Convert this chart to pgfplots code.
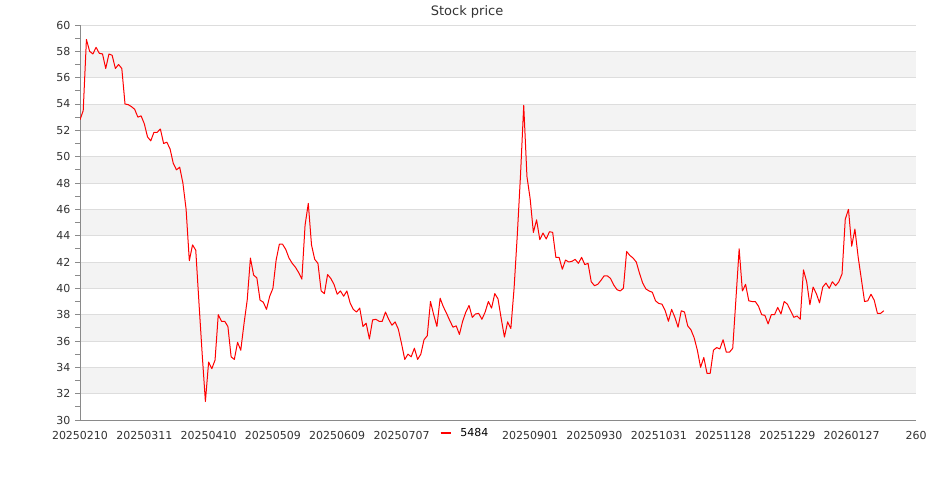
\documentclass[border=0pt]{standalone}
\usepackage{pgfplots}
\pgfplotsset{compat=1.18}
\usepackage{pgfplotstable}
\usepackage{fontspec}
\setmainfont{DejaVu Sans}

\definecolor{band}{HTML}{F3F3F3}
\definecolor{gridc}{HTML}{DDDDDD}
\definecolor{axisc}{HTML}{8A8A8A}
\definecolor{labc}{HTML}{333333}

% daily close, index = trading day
\pgfplotstableread{
i v
0 52.8
1 53.5
2 58.9
3 58.0
4 57.8
5 58.3
6 57.85
7 57.8
8 56.7
9 57.8
10 57.7
11 56.7
12 57.0
13 56.7
14 54.0
15 53.95
16 53.8
17 53.6
18 53.0
19 53.1
20 52.5
21 51.5
22 51.2
23 51.85
24 51.85
25 52.1
26 51.0
27 51.1
28 50.6
29 49.5
30 49.0
31 49.2
32 48.0
33 46.0
34 42.1
35 43.3
36 42.9
37 38.9
38 35.0
39 31.4
40 34.4
41 33.9
42 34.55
43 38.0
44 37.5
45 37.5
46 37.1
47 34.8
48 34.6
49 35.9
50 35.3
51 37.3
52 39.1
53 42.3
54 41.0
55 40.8
56 39.1
57 38.95
58 38.4
59 39.4
60 40.0
61 42.15
62 43.35
63 43.35
64 42.95
65 42.3
66 41.9
67 41.6
68 41.2
69 40.7
70 44.8
71 46.45
72 43.3
73 42.2
74 41.9
75 39.8
76 39.6
77 41.05
78 40.75
79 40.3
80 39.55
81 39.8
82 39.4
83 39.8
84 38.9
85 38.4
86 38.2
87 38.5
88 37.1
89 37.35
90 36.15
91 37.6
92 37.65
93 37.5
94 37.5
95 38.2
96 37.65
97 37.2
98 37.45
99 36.9
100 35.8
101 34.6
102 35.0
103 34.8
104 35.45
105 34.6
106 35.0
107 36.1
108 36.4
109 39.0
110 38.0
111 37.1
112 39.25
113 38.6
114 38.1
115 37.55
116 37.05
117 37.15
118 36.5
119 37.5
120 38.2
121 38.7
122 37.8
123 38.05
124 38.1
125 37.65
126 38.2
127 39.0
128 38.5
129 39.6
130 39.2
131 37.7
132 36.3
133 37.45
134 36.95
135 40.0
136 44.05
137 48.6
138 53.9
139 48.5
140 46.8
141 44.25
142 45.2
143 43.7
144 44.2
145 43.75
146 44.3
147 44.25
148 42.35
149 42.35
150 41.45
151 42.15
152 42.0
153 42.05
154 42.2
155 41.9
156 42.35
157 41.8
158 41.9
159 40.5
160 40.2
161 40.3
162 40.6
163 40.95
164 40.95
165 40.75
166 40.25
167 39.9
168 39.8
169 40.0
170 42.8
171 42.5
172 42.3
173 42.0
174 41.15
175 40.4
176 39.95
177 39.8
178 39.7
179 39.05
180 38.85
181 38.8
182 38.3
183 37.5
184 38.4
185 37.8
186 37.05
187 38.3
188 38.2
189 37.15
190 36.85
191 36.25
192 35.3
193 34.0
194 34.75
195 33.55
196 33.55
197 35.3
198 35.5
199 35.4
200 36.1
201 35.15
202 35.15
203 35.45
204 39.2
205 43.0
206 39.8
207 40.3
208 39.05
209 39.0
210 39.0
211 38.65
212 38.0
213 37.95
214 37.3
215 38.0
216 38.0
217 38.55
218 38.05
219 39.0
220 38.8
221 38.3
222 37.8
223 37.9
224 37.65
225 41.4
226 40.5
227 38.75
228 40.1
229 39.6
230 38.9
231 40.1
232 40.4
233 40.0
234 40.5
235 40.2
236 40.5
237 41.1
238 45.25
239 46.0
240 43.2
241 44.5
242 42.4
243 40.7
244 39.0
245 39.05
246 39.55
247 39.1
248 38.1
249 38.1
250 38.3
}\price

\begin{document}
\begin{tikzpicture}
\begin{axis}[
  set layers,
  at={(60pt,60pt)}, anchor=south west,
  scale only axis,
  width=627pt, height=296.25pt,
  xmin=0, xmax=260, ymin=30, ymax=60,
  axis x line*=bottom, axis y line*=left,
  axis line style={axisc, line width=0.75pt},
  ytick={30,32,...,60},
  minor y tick num=1,
  ymajorgrids,
  major grid style={gridc, line width=0.75pt},
  tick align=outside,
  major tick length=3.75pt, minor tick length=3.75pt,
  y tick style={axisc, line width=0.75pt},
  xtick={0,20,...,260},
  xticklabels={20250210,20250311,20250410,20250509,20250609,20250707,20250805,20250901,20250930,20251031,20251128,20251229,20260127,260},
  x tick style={draw=none},
  /pgf/number format/assume math mode=true,
  tick label style={font=\fontsize{8.25}{9}\selectfont, text=labc},
  xticklabel style={yshift=-1.1pt},
  title={Stock price},
  title style={at={(0.463,1.013)}, anchor=center, font=\fontsize{9.75}{11}\selectfont, text=labc},
  legend style={at={(0.461,-0.034)}, anchor=center, draw=none, fill=white,
    font=\fontsize{8.25}{9}\selectfont, inner xsep=4.5pt, inner ysep=1pt},
  legend image code/.code={
    \draw[#1, line width=1.5pt] (0pt,0pt) -- (8pt,0pt);},
]
% alternating shaded bands behind the grid
\pgfplotsinvokeforeach{32,36,...,56}{
  \addplot[forget plot, on layer=axis background, draw=none, fill=band]
    coordinates {(0,#1) (260,#1) (260,#1+2) (0,#1+2)} -- cycle;
}
\addplot[red, line width=0.75pt, line join=round] table[x=i, y=v] {\price};
\addlegendentry{\hspace{4pt}5484}
\end{axis}
% page = 935 x 500 px at 0.75pt per px
\pgfresetboundingbox
\useasboundingbox (0,0) rectangle (701.25pt,375pt);
\end{tikzpicture}
\end{document}
